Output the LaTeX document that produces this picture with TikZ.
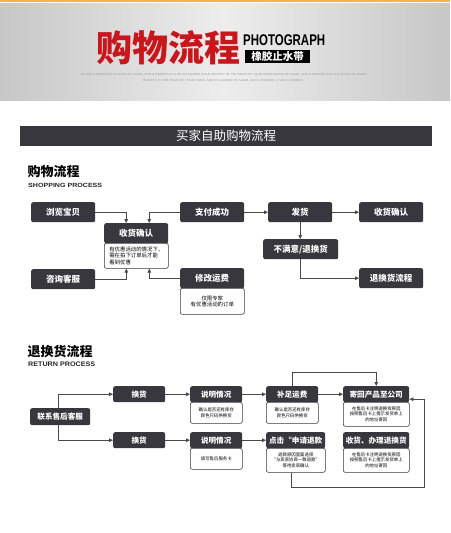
\documentclass[tikz,border=0pt]{standalone}
\usepackage{fontspec}
\setmainfont{Liberation Sans}
\newfontfamily\cjk{Noto Sans CJK SC}
\usetikzlibrary{arrows.meta}
\definecolor{dk}{HTML}{38373D}
\definecolor{ar}{HTML}{4A4A4A}
\definecolor{titlered}{HTML}{C8161D}
\definecolor{orangeline}{HTML}{F2B44E}
\tikzset{
  dbox/.style={fill=dk, rounded corners=2pt, text=white, inner sep=0pt, anchor=north west,
    font=\cjk\bfseries\fontsize{8.5}{10}\selectfont, minimum height=20pt},
  rbox/.style={dbox, font=\cjk\bfseries\fontsize{7.6}{9}\selectfont, minimum height=16pt},
  sbox/.style={draw=dk, line width=0.6pt, fill=white, rounded corners=2pt, inner sep=0pt,
    anchor=north west, align=center, text=black, font=\cjk\fontsize{5.4}{6.6}\selectfont},
  rsbox/.style={sbox, font=\cjk\fontsize{4.4}{5.6}\selectfont},
  arr/.style={draw=ar, line width=0.8pt, -{Triangle[length=4pt,width=3.6pt]}}
}
\begin{document}
\begin{tikzpicture}[x=1pt,y=-1pt]
\useasboundingbox (0,0) rectangle (450,533);
\fill[white] (0,0) rectangle (450,533);
% header
\shade[left color=black!22, right color=black!22, middle color=black!7] (0,3) rectangle (450,100);
\fill[orangeline] (0,0) rectangle (450,1.5);
\node[anchor=west, inner sep=0, text=titlered, font=\cjk\bfseries\fontsize{36}{36}\selectfont] (title) at (96,48) {购物流程};
\node[anchor=north west, inner sep=0, font=\bfseries\fontsize{15.5}{16}\selectfont] (photo) at (243,34.5) {\scalebox{0.74}[1]{PHOTOGRAPH}};
\node[anchor=north west, fill=black, text=white, inner sep=0, minimum width=65pt, minimum height=13pt,
  font=\cjk\bfseries\fontsize{10.5}{11}\selectfont] (tag) at (245,50) {橡胶止水带};
\node[inner sep=0, text=black!40] (tiny1) at (223.5,75) {\resizebox{287pt}{2pt}{TO SEE A WORLD IN A GRAIN OF SAND, AND A HEAVEN IN A WILD FLOWER HOLD INFINITY IN THE PALM OF YOUR HAND GRAIN OF SAND, AND A HEAVEN IN A X A GRAIN OF SAND,}};
\node[inner sep=0, text=black!40] (tiny2) at (223,81) {\resizebox{160pt}{2pt}{INFINITY IN THE PALM OF YOUR HAND, AND IN A GRAIN OF SAND, AND A HEAVEN, A WILD FLOWER}};
% banner
\fill[dk] (20,126) rectangle (432,146);
\node[text=white, inner sep=0, font=\cjk\fontsize{12.5}{13}\selectfont] (banner) at (226,136) {买家自助购物流程};
% section 1
\node[anchor=north west, inner sep=0, font=\cjk\bfseries\fontsize{13}{13}\selectfont] (s1) at (27.5,165.5) {购物流程};
\node[anchor=north west, inner sep=0, text=black!85, font=\bfseries] (s1e) at (28,183) {\resizebox{74pt}{4.2pt}{SHOPPING PROCESS}};
\node[dbox, minimum width=64pt] (browse) at (31,202) {浏览宝贝};
\node[dbox, minimum width=64pt] (pay) at (180,202) {支付成功};
\node[dbox, minimum width=64pt] (ship) at (268,202) {发货};
\node[dbox, minimum width=64pt] (recv) at (359,202) {收货确认};
\node[dbox, minimum width=64pt] (confirm) at (104,223) {收货确认};
\node[sbox, minimum width=64pt, minimum height=25pt, align=left] (confirmsub) at (104,243) {有优惠活动的情况下，\\需在拍下订单后才能\\看到优惠};
\node[dbox, minimum width=75pt] (unhappy) at (263,239) {不满意/退换货};
\node[dbox, minimum width=64pt] (retflow) at (359,268) {退换货流程};
\node[dbox, minimum width=64pt] (consult) at (31,269) {咨询客服};
\node[dbox, minimum width=64pt] (fee) at (180,268) {修改运费};
\node[sbox, minimum width=64pt, minimum height=26pt] (feesub) at (180,288) {仅限专家\\有优惠活动的订单};
\draw[arr] (browse.east) -| ([xshift=-10pt]confirm.north);
\draw[arr] (pay.west) -| ([xshift=13pt]confirm.north);
\draw[arr] (consult.east) -| ([xshift=-10pt]confirmsub.south);
\draw[arr] (fee.west) -| ([xshift=13pt]confirmsub.south);
\draw[arr] (pay.east) -- (ship.west);
\draw[arr] (ship.east) -- (recv.west);
\draw[arr] (ship.south) -- (ship.south |- unhappy.north);
\draw[arr] (unhappy.south) |- (retflow.west);
% section 2
\node[anchor=north west, inner sep=0, font=\cjk\bfseries\fontsize{13}{13}\selectfont] (s2) at (27.5,345) {退换货流程};
\node[anchor=north west, inner sep=0, text=black!85, font=\bfseries] (s2e) at (28,362) {\resizebox{67pt}{4.6pt}{RETURN PROCESS}};
\node[rbox, minimum width=60pt, minimum height=17pt] (contact) at (30,408) {联系售后客服};
\node[rbox, minimum width=52pt] (swap1) at (113,386) {换货};
\node[rbox, minimum width=52pt] (swap2) at (113,432) {换货};
\node[rbox, minimum width=52pt] (exp1) at (190,386) {说明情况};
\node[rsbox, minimum width=52pt, minimum height=21pt] (exp1sub) at (190,402) {确认是否还有库存\\颜色尺码供换货};
\node[rbox, minimum width=52pt] (exp2) at (190,432) {说明情况};
\node[rsbox, minimum width=52pt, minimum height=21pt] (exp2sub) at (190,448) {填写售后服务卡};
\node[rbox, minimum width=52pt] (fill) at (266,386) {补足运费};
\node[rsbox, minimum width=52pt, minimum height=21pt] (fillsub) at (266,402) {确认是否还有库存\\颜色尺码供换货};
\node[rbox, minimum width=59pt] (click) at (266,432) {点击“申请退款};
\node[rsbox, minimum width=59pt, minimum height=24pt] (clicksub) at (266,448) {退款原因里面选择\\“与卖家协商一致退款”\\等待卖家确认};
\node[rbox, minimum width=66pt] (send) at (343,386) {寄回产品至公司};
\node[rsbox, minimum width=66pt, minimum height=24pt] (sendsub) at (343,402) {在售后卡注明退换货原因\\按照售后卡上提示发货单上\\的地址寄回};
\node[rbox, minimum width=66pt] (recvdo) at (343,432) {收货、办理退换货};
\node[rsbox, minimum width=66pt, minimum height=24pt] (recvdosub) at (343,448) {在售后卡注明退换货原因\\按照售后卡上提示发货单上\\的地址寄回};
\draw[arr] ([xshift=-2pt]contact.north) |- (swap1.west);
\draw[arr] ([xshift=-2pt]contact.south) |- (swap2.west);
\draw[arr] (swap1.east) -- (exp1.west);
\draw[arr] (exp1.east) -- (fill.west);
\draw[arr] (fill.east) -- (send.west);
\draw[arr] (swap2.east) -- (exp2.west);
\draw[arr] (exp2.east) -- (click.west);
\draw[arr] (fill.north) -- ++(0,-14) -| (send.north);
\draw[arr] ([xshift=-4pt]clicksub.south) -- ++(0,15) -| ([xshift=15pt,yshift=-5pt]send.east) -- ([yshift=-5pt]send.east);
\end{tikzpicture}
\end{document}
